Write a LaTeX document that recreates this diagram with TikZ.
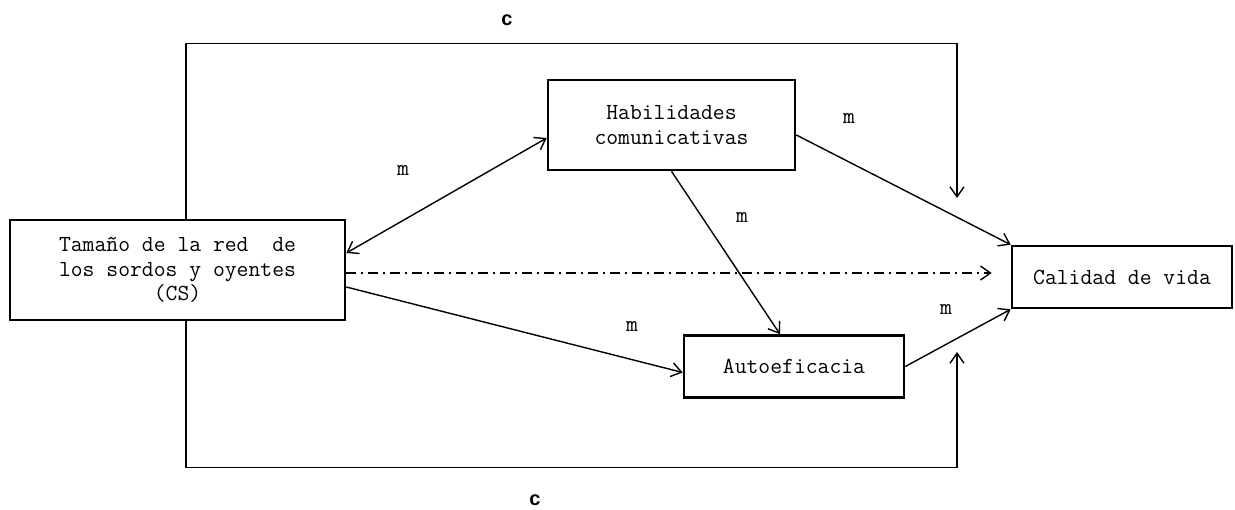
\documentclass[tikz,border=0pt]{standalone}
\usepackage{fontspec}
\newfontfamily\labelfont{Liberation Sans}
\usepackage{tikz}
\usetikzlibrary{arrows.meta}
\tikzstyle{box} = [rectangle, draw, line width=1.3pt, align=center, inner sep=0pt]
\tikzstyle{arrow} = [-{Straight Barb[length=5pt, width=7pt]}, line width=0.7pt]
\tikzstyle{twoway} = [{Straight Barb[length=5pt, width=7pt]}-{Straight Barb[length=5pt, width=7pt]}, line width=0.7pt]
\tikzstyle{direct} = [arrow, dash pattern=on 5pt off 2.5pt on 1pt off 2.5pt]
\tikzstyle{lbl} = [inner sep=0pt]
\tikzstyle{clbl} = [inner sep=0pt, font=\labelfont\bfseries\fontsize{10}{12}\selectfont]

\begin{document}
\begin{tikzpicture}[x=0.5pt, y=-0.5pt, font=\ttfamily\fontsize{11.5}{12.3}\selectfont]
\useasboundingbox (0,0) rectangle (1235,509);

\node[box, minimum width=167.5pt, minimum height=50pt] (cs) at (177.5,270) {Tamaño de la red~~de\\los sordos y oyentes\\(CS)};
\node[box, minimum width=123.5pt, minimum height=45pt] (hab) at (671.5,125) {Habilidades\\comunicativas};
\node[box, minimum width=110pt, minimum height=31pt] (auto) at (794,366.5) {Autoeficacia};
\node[box, minimum width=110pt, minimum height=31pt] (cal) at (1122,277) {Calidad de vida};

% ends of the two c paths
\coordinate (topend) at (957,198);
\coordinate (botend) at (957,352);

% mediated paths
\draw[twoway] ([yshift=-6.5pt]hab.west) -- ([yshift=8.5pt]cs.east);
\draw[arrow] ([yshift=-8.5pt]cs.east) -- ([yshift=-3pt]auto.west);
\draw[arrow] (hab.south) -- ([xshift=-7pt]auto.north);
\draw[arrow] ([yshift=-5pt]hab.east) -- (cal.north west);
\draw[arrow] (auto.east) -- (cal.south west);

% direct path
\draw[direct] ([yshift=-1.5pt]cs.east) -- ([xshift=-9.5pt, yshift=2pt]cal.west);

% c paths round the outside
\draw[arrow] ([xshift=4.25pt]cs.north) -- ++(0,-175) -| (topend);
\draw[arrow] ([xshift=4.25pt]cs.south) -- ++(0,146) -| (botend);

% labels
\node[lbl] (m1) at (403,170) {m};
\node[lbl] (m2) at (849,118) {m};
\node[lbl] (m3) at (742,217) {m};
\node[lbl] (m4) at (632,326) {m};
\node[lbl] (m5) at (946,309) {m};
\node[clbl] (c1) at (507,20) {c};
\node[clbl] (c2) at (535,500) {c};

\end{tikzpicture}
\end{document}
